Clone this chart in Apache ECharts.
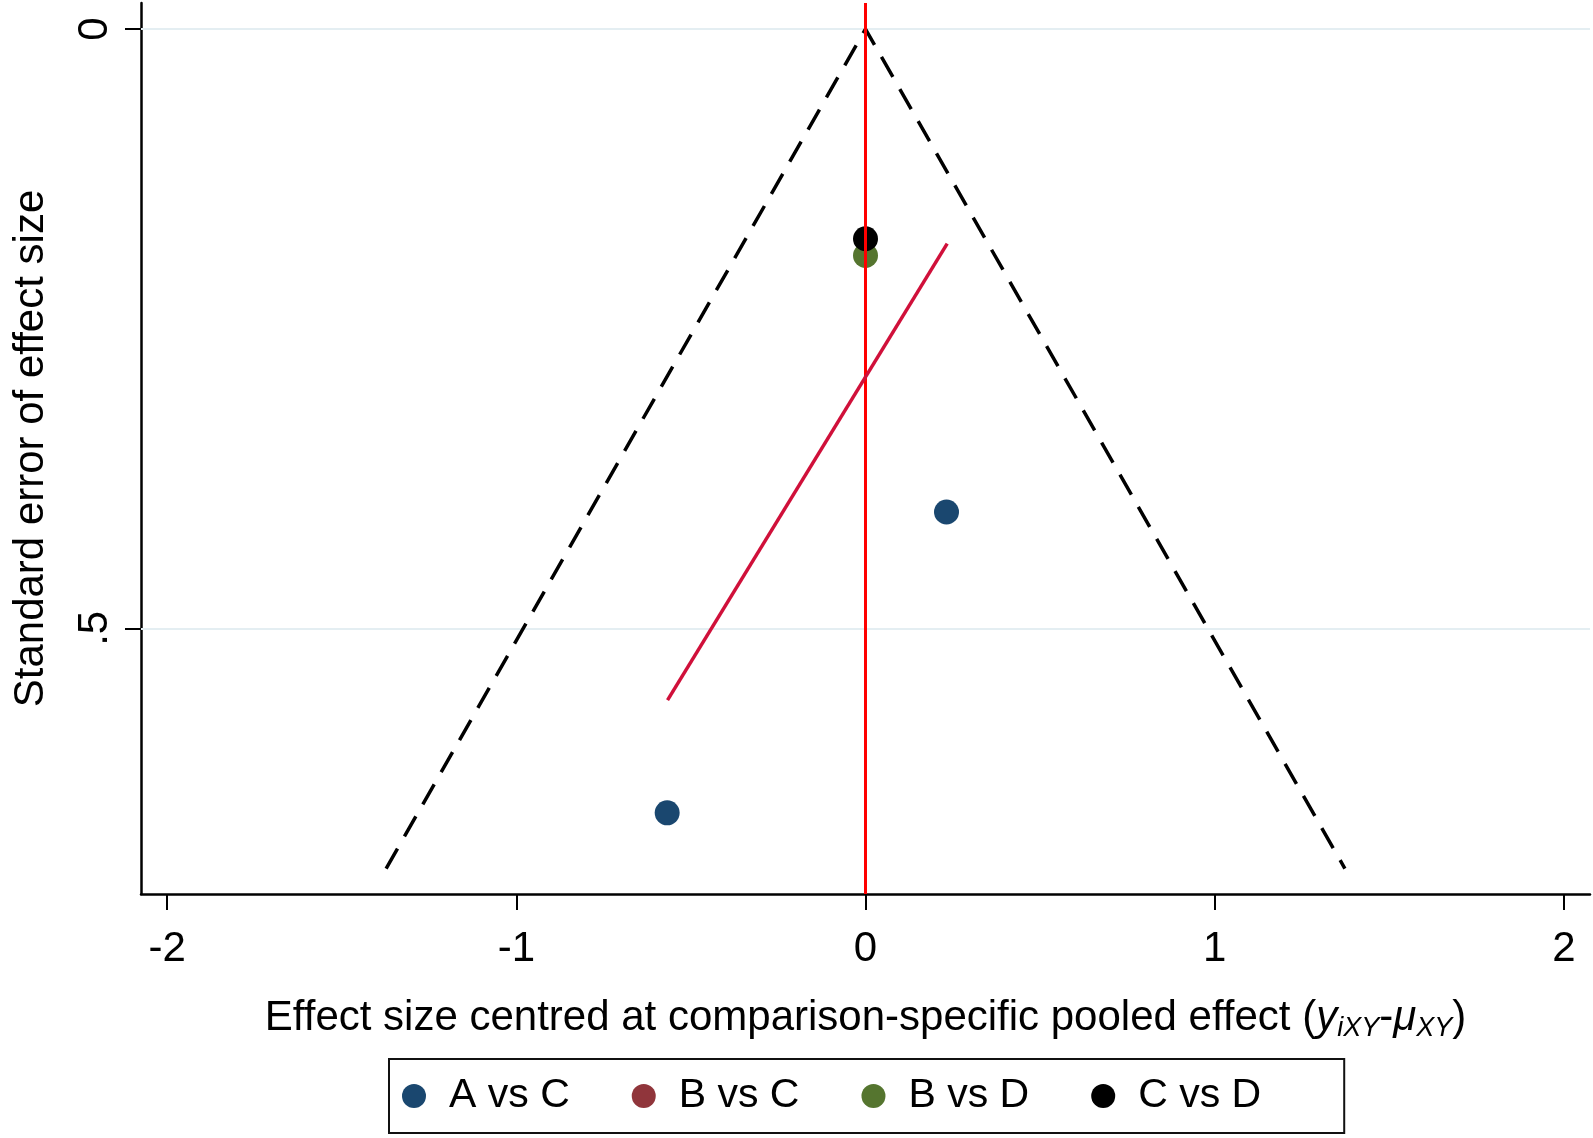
<!DOCTYPE html>
<html>
<head>
<meta charset="utf-8">
<script src="https://cdn.jsdelivr.net/npm/echarts@6/dist/echarts.min.js"></script>
<style>
html,body{margin:0;padding:0;background:#fff;}
#chart{width:1593px;height:1138px;}
</style>
</head>
<body>
<div id="chart"></div>
<script>
// ---- data ----
const xTicks = [-2, -1, 0, 1, 2];
const yTicks = [0, 0.5];
const xRange = [-2.075, 2.075];
const yRange = [-0.0217, 0.7217];

// pseudo 95% funnel limits
const funnelX = [-1.373, 0, 1.373];
const funnelY = [0.7005, 0, 0.7005];

// null line (x = 0)
const nullX = [0, 0];

// regression (small-study) line
const regX = [0.234, -0.567];
const regY = [0.179, 0.560];

// studies by comparison
const acX = [0.232, -0.568];
const acY = [0.403, 0.654];
const bcX = [];
const bcY = [];
const bdX = [0];
const bdY = [0.189];
const cdX = [0];
const cdY = [0.175];

const seriesNames = ['A vs C', 'B vs C', 'B vs D', 'C vs D'];
const seriesColors = ['#1a476f', '#90353b', '#55752f', '#000000'];

const zip = (xs, ys) => xs.map((x, i) => [x, ys[i]]);
const FONT = '"Liberation Sans", Arial, sans-serif';

const chart = echarts.init(document.getElementById('chart'), null, {renderer: 'canvas'});

const scatterData = [zip(acX, acY), zip(bcX, bcY), zip(bdX, bdY), zip(cdX, cdY)];

const option = {
  animation: false,
  backgroundColor: '#ffffff',
  textStyle: {fontFamily: FONT, color: '#000'},
  grid: {left: 141, right: 3, top: 3, bottom: 244, containLabel: false},
  xAxis: {
    type: 'value',
    min: xRange[0], max: xRange[1],
    axisLine: {show: true, onZero: false, lineStyle: {color: '#000', width: 2.5}},
    axisTick: {show: true, customValues: xTicks, length: 16, lineStyle: {color: '#000', width: 2}},
    axisLabel: {customValues: xTicks, fontSize: 42, color: '#000', margin: 34, fontFamily: FONT,
      formatter: v => String(v)},
    splitLine: {show: false},
    name: 'Effect size centred at comparison-specific pooled effect ({i|y}{s|iXY}-{i|μ}{s|XY})',
    nameLocation: 'middle',
    nameGap: 99,
    nameTextStyle: {
      fontSize: 42, color: '#000', fontFamily: FONT, lineHeight: 50,
      rich: {
        i: {fontSize: 42, fontStyle: 'italic', color: '#000', fontFamily: FONT, lineHeight: 50},
        s: {fontSize: 27, fontStyle: 'italic', color: '#000', fontFamily: FONT, lineHeight: 38, padding: [20, 0, 0, 0]}
      }
    }
  },
  yAxis: {
    type: 'value',
    inverse: true,
    min: yRange[0], max: yRange[1],
    axisLine: {show: true, onZero: false, lineStyle: {color: '#000', width: 2.5}},
    axisTick: {show: true, customValues: yTicks, length: 16, lineStyle: {color: '#000', width: 2}},
    axisLabel: {customValues: yTicks, fontSize: 42, color: '#000', margin: 25, rotate: 90, fontFamily: FONT,
      formatter: v => String(v).replace(/^0\./, '.')},
    splitLine: {show: false},
    name: 'Standard error of effect size',
    nameLocation: 'middle',
    nameGap: 89,
    nameTextStyle: {fontSize: 42, color: '#000', fontFamily: FONT}
  },
  legend: {
    show: true,
    data: seriesNames,
    left: 389, top: 1059,
    orient: 'horizontal',
    icon: 'circle',
    itemWidth: 24, itemHeight: 24,
    itemGap: 62,
    padding: [15, 83, 15, 13],
    borderColor: '#111', borderWidth: 2,
    backgroundColor: '#fff',
    selectedMode: false,
    textStyle: {fontSize: 41, color: '#000', fontFamily: FONT, lineHeight: 44, padding: [0, 0, 0, 18]}
  },
  series: [
    {
      name: 'grid', type: 'line', data: [], silent: true, z: 1,
      markLine: {
        silent: true, symbol: ['none', 'none'], label: {show: false}, z: 1,
        lineStyle: {color: '#e4eef2', width: 2, type: 'solid'},
        data: yTicks.map(v => ({yAxis: v}))
      }
    },
    {
      name: 'funnel', type: 'line', data: zip(funnelX, funnelY), symbol: 'none', silent: true,
      lineStyle: {color: '#000', width: 3.5, type: [23, 14]}
    },
    {
      name: 'null', type: 'line', data: zip(nullX, yRange), symbol: 'none', silent: true,
      lineStyle: {color: '#ff0000', width: 3}
    },
    {
      name: 'reg', type: 'line', data: zip(regX, regY), symbol: 'none', silent: true,
      lineStyle: {color: '#d0103a', width: 3.5}
    }
  ].concat(seriesNames.map((n, i) => ({
    name: n, type: 'scatter', data: scatterData[i], symbol: 'circle', symbolSize: 25,
    itemStyle: {color: seriesColors[i], opacity: 1}
  })))
};
chart.setOption(option);
</script>
</body>
</html>
